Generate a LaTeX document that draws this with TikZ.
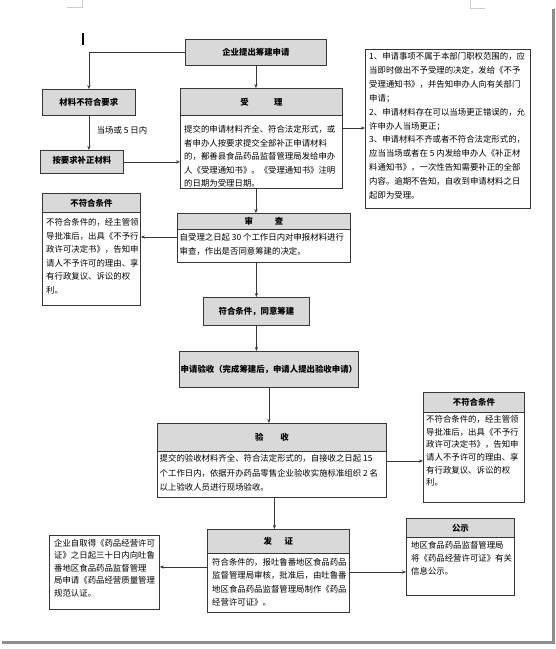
\documentclass[tikz,border=0pt]{standalone}
\usepackage{fontspec}
\setmainfont{Noto Sans CJK SC}
\usetikzlibrary{arrows.meta,calc}
\definecolor{hdr}{RGB}{217,217,217}
\definecolor{edgec}{RGB}{55,55,55}
\definecolor{pageedge}{RGB}{140,140,140}
\definecolor{markc}{RGB}{205,205,205}
\begin{document}
\begin{tikzpicture}[x=1pt,y=-1pt,
  box/.style={draw=edgec,line width=0.8pt,inner sep=0pt,anchor=north west,fill=white},
  hbox/.style={box,fill=hdr},
  txt/.style={inner sep=0pt,anchor=north west,align=left,font=\fontsize{8.4}{#1}\selectfont},
  ttl/.style={inner sep=0pt,font=\fontsize{8.4}{10}\selectfont\bfseries},
  lbl/.style={inner sep=0pt,font=\fontsize{8.4}{10}\selectfont},
  conn/.style={draw=edgec,line width=0.7pt},
  arr/.style={conn,-{Stealth[length=4pt,width=3.2pt]}},
]
\useasboundingbox (0,0) rectangle (556,649);
% page decorations
\draw[markc,line width=0.6pt] (67,7) -- (82,7) -- (82,0);
\draw[markc,line width=0.6pt] (485,8) -- (470,8) -- (470,0);
\draw[pageedge,line width=3pt] (553,9) -- (553,642) -- (2,642);
\draw[black,line width=1.3pt] (83,33) -- (83,45);

% boxes
\node[hbox,minimum width=141pt,minimum height=26pt] (qy) at (185,39) {};
\node[ttl] (qyt) at (qy.center) {企业提出筹建申请};

\node[hbox,minimum width=93pt,minimum height=26pt] (bfh) at (42,89) {};
\node[ttl] (bfht) at (bfh.center) {材料不符合要求};

\node[hbox,minimum width=83pt,minimum height=23pt] (bz) at (40,150) {};
\node[ttl] (bzt) at ($(bz.center)+(0,-1.5)$) {按要求补正材料};

\node[lbl] (lblt) at (122,130) {当场或 5 日内};

\node[hbox,minimum width=162pt,minimum height=27pt] (slh) at (180,88) {};
\node[ttl] (slht) at (slh.center) {受\hspace{3em}理};
\node[box,minimum width=162pt,minimum height=73pt] (slb) at (180,115) {};
\node[txt=13.5] (slt) at (184,125.2) {提交的申请材料齐全、符合法定形式，或\\者申办人按要求提交全部补正申请材料\\的，鄯善县食品药品监督管理局发给申办\\人《受理通知书》。《受理通知书》注明\\的日期为受理日期。};

\node[box,minimum width=165pt,minimum height=159pt] (notes) at (365,49) {};
\node[txt=13.9] (notest) at (369,52.2) {1、申请事项不属于本部门职权范围的，应\\当即时做出不予受理的决定，发给《不予\\受理通知书》，并告知申办人向有关部门\\申请；\\2、申请材料存在可以当场更正错误的，允\\许申办人当场更正；\\3、申请材料不齐或者不符合法定形式的，\\应当当场或者在 5 内发给申办人《补正材\\料通知书》，一次性告知需要补正的全部\\内容。逾期不告知，自收到申请材料之日\\起即为受理。};

\node[hbox,minimum width=98pt,minimum height=19pt] (bf1h) at (42,193) {};
\node[ttl] (bf1ht) at (bf1h.center) {不符合条件};
\node[box,minimum width=98pt,minimum height=93pt] (bf1b) at (42,212) {};
\node[txt=13.6] (bf1t) at (46,218.2) {不符合条件的，经主管领\\导批准后，出具《不予行\\政许可决定书》，告知申\\请人不予许可的理由、享\\有行政复议、诉讼的权\\利。};

\node[hbox,minimum width=173pt,minimum height=16pt] (sch) at (177,213) {};
\node[ttl] (scht) at (sch.center) {审\hspace{2.6em}查};
\node[box,minimum width=173pt,minimum height=33pt] (scb) at (177,229) {};
\node[txt=14] (sct) at (179.5,233.2) {自受理之日起 30 个工作日内对申报材料进行\\审查，作出是否同意筹建的决定。};

\node[hbox,minimum width=106pt,minimum height=28pt] (fh) at (203,297) {};
\node[ttl] (fht) at (fh.center) {符合条件，同意筹建};

\node[hbox,minimum width=179pt,minimum height=36pt] (sq) at (179,351) {};
\node[ttl] (sqt) at (sq.center) {申请验收（完成筹建后，申请人提出验收申请）};

\node[hbox,minimum width=229pt,minimum height=28pt] (ysh) at (157,423) {};
\node[ttl] (ysht) at (ysh.center) {验\hspace{2em}收};
\node[box,minimum width=229pt,minimum height=46pt] (ysb) at (157,451) {};
\node[txt=14.5] (yst) at (159.5,454.2) {提交的验收材料齐全、符合法定形式的，自接收之日起 15\\个工作日内，依据开办药品零售企业验收实施标准组织 2 名\\以上验收人员进行现场验收。};

\node[hbox,minimum width=101pt,minimum height=20pt] (bf2h) at (423,392) {};
\node[ttl] (bf2ht) at (bf2h.center) {不符合条件};
\node[box,minimum width=101pt,minimum height=90pt] (bf2b) at (423,412) {};
\node[txt=12.6] (bf2t) at (426,415.4) {不符合条件的，经主管领\\导批准后，出具《不予行\\政许可决定书》，告知申\\请人不予许可的理由、享\\有行政复议、诉讼的权\\利。};

\node[box,minimum width=110pt,minimum height=74pt] (qz) at (49,535) {};
\node[txt=12.4] (qzt) at (54,539.2) {企业自取得《药品经营许可\\证》之日起三十日内向吐鲁\\番地区食品药品监督管理\\局申请《药品经营质量管理\\规范认证。};

\node[hbox,minimum width=142pt,minimum height=24pt] (fzh) at (207,529) {};
\node[ttl] (fzht) at (fzh.center) {发\hspace{1.5em}证};
\node[box,minimum width=142pt,minimum height=59pt] (fzb) at (207,553) {};
\node[txt=13.3] (fzt) at (212,558.2) {符合条件的，报吐鲁番地区食品药品\\监督管理局审核，批准后，由吐鲁番\\地区食品药品监督管理局制作《药品\\经营许可证》。};

\node[hbox,minimum width=108pt,minimum height=19pt] (gsh) at (406,518) {};
\node[ttl] (gsht) at (gsh.center) {公示};
\node[box,minimum width=108pt,minimum height=58pt] (gsb) at (406,537) {};
\node[txt=12.8] (gst) at (411,541.2) {地区食品药品监督管理局\\将《药品经营许可证》有关\\信息公示。};

% connectors
\draw[arr] (qy.west) -| (bfh.north);
\draw[arr] (qy.south) -- (qy.south |- slh.north);
\draw[arr] (bfh.south) -- (bfh.south |- bz.north);
\draw[arr] (bz.east) -- (bz.east -| slb.west);
\coordinate (c1) at ($(slh.north east)+(0,40)$);
\draw[arr] (c1) -- (c1 -| notes.west);
\draw[arr] (slb.south -| qy.south) -- (sch.north -| qy.south);
\coordinate (c2) at ($(sch.north west)+(0,24)$);
\draw[arr] (c2) -- (c2 -| bf1b.east);
\draw[arr] (scb.south -| fh.north) -- (fh.north);
\draw[arr] (fh.south) -- (fh.south |- sq.north);
\draw[arr] (sq.south) -- (sq.south |- ysh.north);
\coordinate (c3) at ($(ysh.north east)+(0,38)$);
\draw[arr] (c3) -- (c3 -| bf2b.west);
\coordinate (c4) at ($(ysb.south)+(2.5,0)$);
\draw[arr] (c4) -- (c4 |- fzh.north);
\coordinate (c5) at ($(fzh.north west)+(0,38)$);
\draw[arr] (c5) -- (c5 -| qz.east);
\coordinate (c6) at ($(fzh.north east)+(0,43)$);
\draw[arr] (c6) -- (c6 -| gsb.west);
\end{tikzpicture}
\end{document}
